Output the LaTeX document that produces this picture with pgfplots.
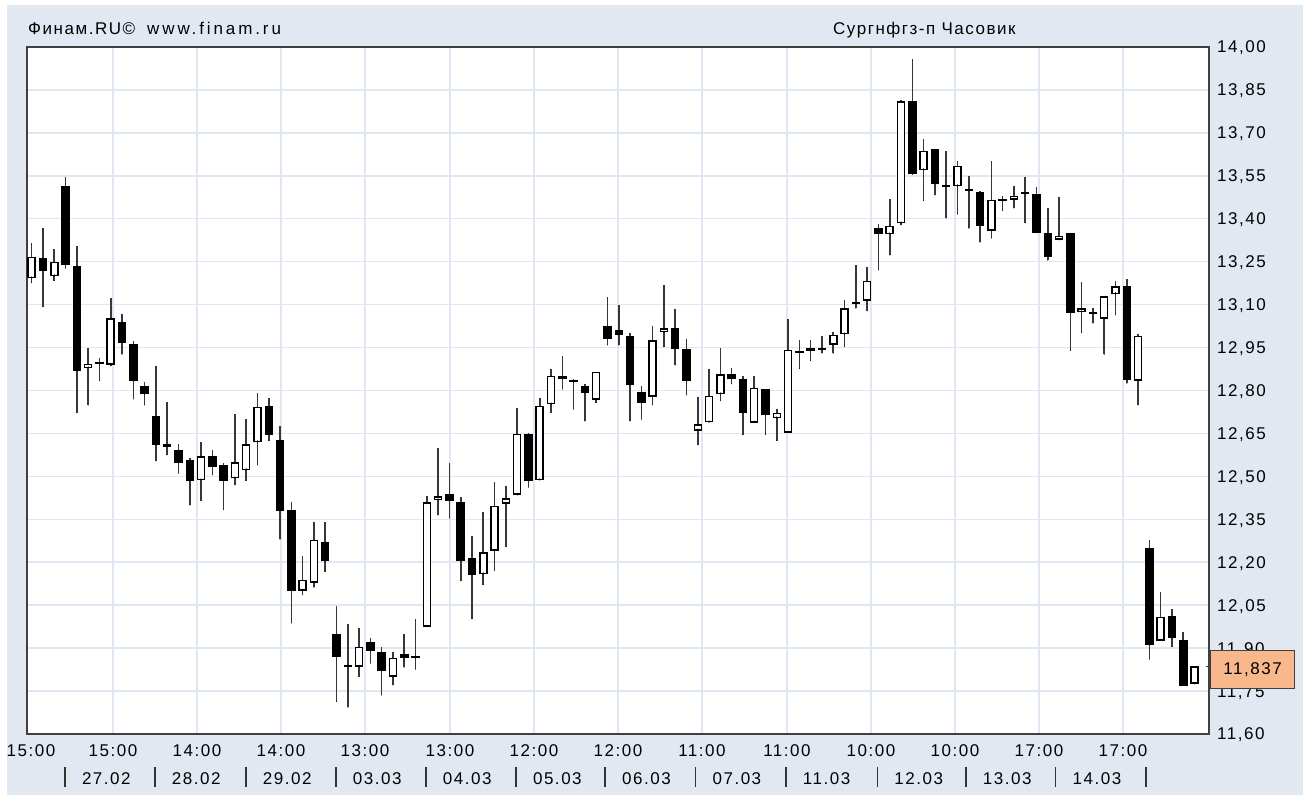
\documentclass[border=0pt]{standalone}
\usepackage{pgfplots}
\pgfplotsset{compat=1.18}
\usepackage{pgfplotstable}
\usepackage{fontspec}
\setmainfont{Liberation Sans}[LetterSpace=9]
\definecolor{panel}{RGB}{226,232,242}
\definecolor{gridc}{RGB}{224,231,243}
\definecolor{wickc}{RGB}{55,55,55}
\definecolor{boxc}{RGB}{248,184,140}
\newcommand\lf{\fontsize{17}{20}\selectfont}

% x = candle index, o h l c
\pgfplotstableread{
x o h l c
0 13.192 13.315 13.176 13.267
2 13.200 13.294 13.184 13.249
5 12.878 12.947 12.749 12.893
7 12.890 13.124 12.886 13.052
15 12.487 12.621 12.415 12.571
18 12.493 12.718 12.470 12.549
19 12.522 12.699 12.485 12.612
20 12.619 12.790 12.540 12.743
24 12.101 12.223 12.086 12.138
25 12.129 12.342 12.112 12.278
29 11.835 11.969 11.800 11.905
32 11.800 11.888 11.771 11.867
35 11.975 12.432 11.975 12.409
36 12.417 12.600 12.365 12.431
40 12.158 12.377 12.121 12.235
41 12.240 12.481 12.170 12.397
42 12.404 12.466 12.254 12.423
43 12.435 12.740 12.435 12.648
45 12.487 12.773 12.487 12.746
46 12.752 12.874 12.722 12.851
50 12.767 12.866 12.757 12.866
55 12.778 13.026 12.749 12.976
56 13.003 13.169 12.953 13.017
59 12.660 12.776 12.610 12.682
60 12.689 12.874 12.689 12.781
61 12.787 12.950 12.764 12.857
64 12.688 12.851 12.688 12.809
66 12.703 12.734 12.625 12.723
67 12.653 13.049 12.653 12.942
71 12.959 13.005 12.930 12.994
72 12.996 13.116 12.953 13.087
74 13.113 13.231 13.078 13.183
76 13.346 13.468 13.273 13.375
77 13.384 13.815 13.378 13.811
79 13.570 13.678 13.463 13.637
82 13.514 13.602 13.416 13.585
85 13.358 13.602 13.332 13.466
87 13.466 13.515 13.437 13.481
91 13.326 13.475 13.326 13.340
93 13.075 13.180 13.002 13.087
95 13.050 13.130 12.926 13.130
96 13.137 13.183 13.064 13.165
98 12.834 12.997 12.749 12.991
100 11.926 12.097 11.926 12.010
103 11.775 11.837 11.775 11.837
}\bull

\pgfplotstableread{
x o h l c
1 13.264 13.369 13.093 13.219
3 13.515 13.545 13.227 13.238
4 13.235 13.305 12.722 12.869
6 12.898 12.915 12.834 12.893
8 13.040 13.067 12.926 12.967
9 12.964 12.973 12.770 12.834
10 12.816 12.831 12.749 12.787
11 12.711 12.886 12.554 12.610
12 12.613 12.761 12.575 12.604
13 12.592 12.612 12.511 12.548
14 12.557 12.565 12.400 12.484
16 12.571 12.592 12.505 12.534
17 12.539 12.546 12.383 12.485
21 12.746 12.775 12.624 12.645
22 12.627 12.676 12.280 12.380
23 12.383 12.409 11.987 12.101
26 12.270 12.342 12.167 12.204
27 11.949 12.047 11.713 11.870
28 11.841 11.984 11.693 11.835
30 11.920 11.936 11.847 11.891
31 11.886 11.905 11.736 11.821
33 11.878 11.949 11.833 11.865
34 11.873 12.001 11.826 11.865
37 12.438 12.546 12.354 12.415
38 12.409 12.427 12.135 12.204
39 12.214 12.293 12.002 12.155
44 12.648 12.650 12.462 12.485
47 12.851 12.921 12.804 12.841
48 12.837 12.839 12.734 12.829
49 12.816 12.822 12.693 12.792
51 13.026 13.126 12.959 12.980
52 13.011 13.099 12.959 12.994
53 12.991 13.000 12.693 12.819
54 12.796 12.816 12.699 12.757
57 13.019 13.084 12.889 12.945
58 12.944 12.979 12.784 12.833
62 12.857 12.880 12.823 12.839
63 12.839 12.851 12.645 12.722
65 12.804 12.806 12.645 12.714
68 12.938 12.976 12.876 12.932
69 12.947 12.976 12.904 12.939
70 12.948 12.990 12.930 12.942
73 13.108 13.238 13.087 13.102
75 13.369 13.382 13.221 13.346
78 13.811 13.957 13.555 13.555
80 13.643 13.645 13.483 13.520
81 13.517 13.637 13.402 13.511
83 13.503 13.550 13.367 13.497
84 13.495 13.497 13.318 13.375
86 13.469 13.481 13.428 13.463
88 13.492 13.547 13.386 13.486
89 13.486 13.512 13.351 13.351
90 13.349 13.439 13.255 13.267
92 13.349 13.351 12.939 13.072
94 13.073 13.087 13.035 13.067
97 13.165 13.188 12.825 12.837
99 12.249 12.278 11.861 11.911
101 12.012 12.036 11.905 11.934
102 11.928 11.957 11.769 11.769
}\bear

\newcommand\dl[1]{\makebox[0pt][l]{\makebox[0pt]{\textcolor{black!80}{\rule[-3pt]{1.5pt}{20pt}}}\hspace{17pt}#1}}
\pgfplotsset{candle/.style={only marks, mark=*, mark size=0.1pt, mark options={draw=none, fill=none}, forget plot,
  error bars/.cd, y dir=plus, y explicit, error mark=none}}

\begin{document}
\begin{tikzpicture}[x=1pt,y=1pt]
\fill[white] (0,0) rectangle (1311,800);
\fill[panel] (7,5) rectangle (1303,795);
\node[anchor=base west, inner sep=0pt, font=\lf] at (28,765) {Финам.RU©\hspace{12pt}\addfontfeatures{LetterSpace=17}www.finam.ru};
\node[anchor=base west, inner sep=0pt, font=\lf] at (833,765) {Сургнфгз-п Часовик};
\begin{axis}[
  at={(27pt,66pt)}, anchor=south west, scale only axis,
  width=1182pt, height=687pt,
  xmin=-0.416, xmax=104.28, ymin=11.6, ymax=14.0,
  axis background/.style={fill=white},
  axis line style={line width=1.5pt, draw=black!75},
  xmajorgrids, ymajorgrids,
  grid style={line width=1.5pt, gridc},
  major tick length=0pt,
  clip=false,
  xtick={-0.416,7.20,14.64,22.08,29.52,37.05,44.49,51.93,59.37,66.90,74.34,81.78,89.22,96.66},
  xticklabels={\hspace*{8pt}15:00,15:00,14:00,14:00,13:00,13:00,12:00,12:00,11:00,11:00,10:00,10:00,17:00,17:00},
  xticklabel style={font=\lf, anchor=base, inner sep=0pt, yshift=-23pt},
  extra x ticks={2.95,10.92,18.98,26.95,34.92,42.9,50.8,58.8,66.8,74.9,82.75,90.7,98.7},
  extra x tick labels={\dl{27.02},\dl{28.02},\dl{29.02},\dl{03.03},\dl{04.03},\dl{05.03},\dl{06.03},\dl{07.03},\dl{11.03},\dl{12.03},\dl{13.03},\dl{14.03},\dl{}},
  extra x tick style={grid=none, tick label style={yshift=-27pt}},
  ytick={11.60,11.75,11.90,12.05,12.20,12.35,12.50,12.65,12.80,12.95,13.10,13.25,13.40,13.55,13.70,13.85,14.00},
  yticklabels={{11,60},{11,75},{11,90},{12,05},{12,20},{12,35},{12,50},{12,65},{12,80},{12,95},{13,10},{13,25},{13,40},{13,55},{13,70},{13,85},{14,00}},
  yticklabel pos=right,
  yticklabel style={font=\lf, anchor=base west, inner sep=0pt, xshift=8pt, yshift=-6pt},
]
% wicks
\addplot[candle, error bar style={line width=1.6pt, color=wickc}]
  table[x=x, y=l, y error plus expr=\thisrow{h}-\thisrow{l}] {\bull};
\addplot[candle, error bar style={line width=1.6pt, color=wickc}]
  table[x=x, y=l, y error plus expr=\thisrow{h}-\thisrow{l}] {\bear};
% bear bodies
\addplot[candle, error bar style={line width=8.5pt, color=black}]
  table[x=x, y=c, y error plus expr=\thisrow{o}-\thisrow{c}] {\bear};
% bull bodies: outline then white inside
\addplot[candle, error bar style={line width=8.5pt, color=black}]
  table[x=x, y=o, y error plus expr=\thisrow{c}-\thisrow{o}] {\bull};
\addplot[candle, error bar style={line width=5.5pt, color=white}]
  table[x=x, y expr=\thisrow{o}+0.0052, y error plus expr={max(\thisrow{c}-\thisrow{o}-0.0104,0)}] {\bull};
\coordinate (lastc) at (axis cs:104.28,11.837);
\end{axis}
\draw[line width=1.2pt, black!80] ([xshift=-3pt]lastc) -- ([xshift=2pt]lastc);
\node[draw=black!75, line width=1.3pt, fill=boxc, anchor=west, minimum width=84pt, minimum height=38pt,
  inner sep=0pt, font=\lf, yshift=-3pt, xshift=1pt] at (lastc) {11,837};
\pgfresetboundingbox
\useasboundingbox (0,0) rectangle (1311,800);
\end{tikzpicture}
\end{document}
